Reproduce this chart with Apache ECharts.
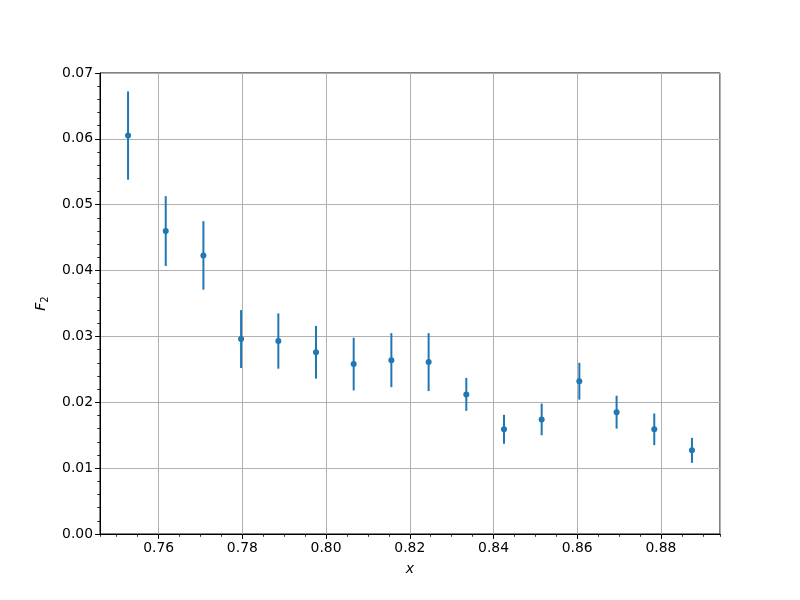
<!DOCTYPE html>
<html>
<head>
<meta charset="utf-8">
<script src="https://cdn.jsdelivr.net/npm/echarts@6/dist/echarts.min.js"></script>
<style>html,body{margin:0;padding:0;background:#fff;}#chart{width:800px;height:600px;}</style>
</head>
<body>
<div id="chart"></div>
<script>
// Data
const xValues = [0.7527, 0.7617, 0.7707, 0.7797, 0.7886, 0.7976, 0.8066, 0.8156,
                 0.8245, 0.8335, 0.8425, 0.8515, 0.8605, 0.8694, 0.8784, 0.8874];
const f2Values = [0.0605, 0.0460, 0.0423, 0.0296, 0.0293, 0.0276, 0.0258, 0.0264,
                  0.0261, 0.0212, 0.0159, 0.0174, 0.0232, 0.0185, 0.0159, 0.0127];
const f2Errors = [0.0067, 0.0053, 0.0052, 0.0044, 0.0042, 0.0040, 0.0040, 0.0041,
                  0.0044, 0.0025, 0.0022, 0.0024, 0.0028, 0.0025, 0.0024, 0.0019];
const xTickLabels = ['0.76', '0.78', '0.80', '0.82', '0.84', '0.86', '0.88'];
const yTickLabels = ['0.00', '0.01', '0.02', '0.03', '0.04', '0.05', '0.06', '0.07'];

const X_MIN = 0.746, X_MAX = 0.8941;
const COLOR = '#1f77b4';
const FONT = 'DejaVu Sans';

const points = xValues.map((x, i) => [x, f2Values[i]]);
const bars = xValues.map((x, i) => [x, f2Values[i] - f2Errors[i], f2Values[i] + f2Errors[i]]);

const chart = echarts.init(document.getElementById('chart'), null, {renderer: 'canvas'});
chart.setOption({
  animation: false,
  backgroundColor: '#fff',
  grid: {left: 100, right: 80, top: 73, bottom: 66, show: true, borderColor: '#000', borderWidth: 1, backgroundColor: 'transparent'},
  xAxis: [{
    type: 'value', min: X_MIN, max: X_MAX, splitNumber: 7,
    name: '{i|x}', nameLocation: 'middle', nameGap: 28,
    nameTextStyle: {rich: {i: {fontFamily: FONT, fontStyle: 'italic', fontSize: 14, color: '#000'}}},
    axisLine: {show: true, onZero: false, lineStyle: {color: '#000', width: 1}},
    axisTick: {show: true, length: 4.9, lineStyle: {color: '#000', width: 1}},
    axisLabel: {show: true, showMinLabel: false, showMaxLabel: false, margin: 7,
      fontFamily: FONT, fontSize: 13.9, color: '#000',
      formatter: v => { const s = v.toFixed(2); return xTickLabels.includes(s) ? s : ''; }},
    splitLine: {show: true, lineStyle: {color: '#b0b0b0', width: 1}}
  }, {
    type: 'value', min: X_MIN, max: X_MAX, splitNumber: 30, position: 'bottom',
    axisLine: {show: false}, axisLabel: {show: false}, splitLine: {show: false},
    axisTick: {show: true, length: 2.8, lineStyle: {color: '#000', width: 0.8}}
  }],
  yAxis: {
    type: 'value', min: 0, max: 0.07, interval: 0.01,
    name: '{i|F}{s|2}', nameLocation: 'middle', nameGap: 50, nameRotate: 90,
    nameTextStyle: {rich: {
      i: {fontFamily: FONT, fontStyle: 'italic', fontSize: 14, color: '#000'},
      s: {fontFamily: FONT, fontSize: 10, color: '#000', padding: [8, 0, 0, 0]}
    }},
    axisLine: {show: true, onZero: false, lineStyle: {color: '#000', width: 1}},
    axisTick: {show: true, length: 4.9, lineStyle: {color: '#000', width: 1}},
    minorTick: {show: true, splitNumber: 5, length: 2.8, lineStyle: {color: '#000', width: 0.8}},
    axisLabel: {margin: 7, fontFamily: FONT, fontSize: 13.9, color: '#000',
      formatter: v => yTickLabels[Math.round(v / 0.01)] || ''},
    splitLine: {show: true, lineStyle: {color: '#b0b0b0', width: 1}}
  },
  series: [{
    type: 'custom', xAxisIndex: 0, yAxisIndex: 0, data: bars, z: 2,
    renderItem: (params, api) => {
      const p1 = api.coord([api.value(0), api.value(1)]);
      const p2 = api.coord([api.value(0), api.value(2)]);
      return {type: 'line', shape: {x1: p1[0], y1: p1[1], x2: p2[0], y2: p2[1]},
        style: {stroke: COLOR, lineWidth: 2}};
    }
  }, {
    type: 'scatter', xAxisIndex: 0, yAxisIndex: 0, data: points, z: 3,
    symbol: 'circle', symbolSize: 6, itemStyle: {color: COLOR, opacity: 1}
  }]
});
</script>
</body>
</html>
